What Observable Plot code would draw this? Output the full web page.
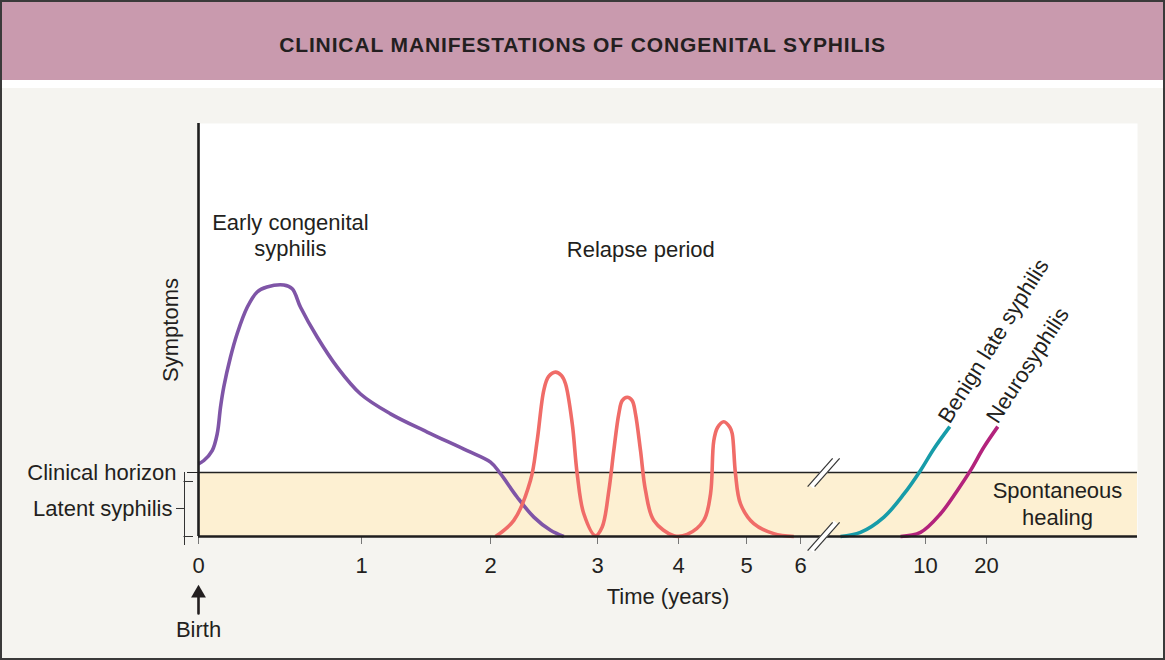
<!DOCTYPE html>
<html>
<head>
<meta charset="utf-8">
<script src="https://cdn.jsdelivr.net/npm/d3@7"></script>
<script src="https://cdn.jsdelivr.net/npm/@observablehq/plot@0.6"></script>
<style>
  html, body { margin: 0; padding: 0; background: #f5f4f0; }
  #wrap { position: relative; width: 1165px; height: 660px; overflow: hidden; background: #f5f4f0;
          font-family: "Liberation Sans", Arial, Helvetica, sans-serif; }
  #header { position: absolute; left: 0; top: 0; width: 1165px; height: 80px; background: #c99aae; }
  #strip { position: absolute; left: 0; top: 80px; width: 1165px; height: 8px; background: #ffffff; }
  #title { position: absolute; left: 0; top: 34px; width: 1165px; text-align: center; font-size: 21px; line-height: 21px;
           font-weight: bold; letter-spacing: 0.88px; color: #231f20; }
  #chart { position: absolute; left: 0; top: 88px; }
  #border { position: absolute; left: 0; top: 0; width: 1165px; height: 660px; box-sizing: border-box;
            border: 2px solid #3a3a3a; pointer-events: none; }
</style>
</head>
<body>
<div id="wrap">
  <div id="header"></div>
  <div id="strip"></div>
  <div id="title">CLINICAL MANIFESTATIONS OF CONGENITAL SYPHILIS</div>
  <div id="chart"></div>
  <div id="border"></div>
</div>
<script>
// ---- data (x in years on a broken schematic time axis, y = symptom level 0-100) ----
const xTicks = [0, 1, 2, 3, 4, 5, 6, 10, 20];
const xTickLabels = ["0", "1", "2", "3", "4", "5", "6", "10", "20"];
const horizon = 15.5;        // clinical horizon level
const breakAt = 6.74;        // axis break between 6 and 10 years

const earlyYears = [0, 0.033, 0.084, 0.115, 0.135, 0.155, 0.196, 0.237, 0.299, 0.36, 0.42, 0.523, 0.575, 0.626, 0.728, 0.851, 0.994, 1.225, 1.509, 1.819, 2.0, 2.093, 2.25, 2.405, 2.561, 2.685];
const earlyLevel = [17.6, 18.4, 20.8, 24.9, 31.3, 36.2, 43.4, 49.1, 55.5, 59.2, 60.4, 60.9, 60.0, 55.5, 48.3, 41.0, 34.5, 29.7, 25.3, 20.8, 18.0, 15.2, 9.5, 4.7, 1.5, 0];

const relapseYears = [2.047, 2.218, 2.374, 2.436, 2.498, 2.542, 2.607, 2.663, 2.701, 2.764, 2.81, 2.872, 2.981,
                      3.058, 3.14, 3.201, 3.263, 3.305, 3.367, 3.428, 3.469, 3.531, 3.593, 3.695, 3.942,
                      4.128, 4.371, 4.471, 4.519, 4.574, 4.666, 4.757, 4.79, 4.838, 4.912, 5.135, 5.506, 5.876];
const relapseLevel = [0, 3.9, 13.6, 23.2, 35.4, 38.7, 39.8, 39.0, 37.0, 27.3, 15.2, 5.5, 0.2,
                      2.3, 11.1, 20.8, 29.7, 32.9, 33.7, 32.9, 29.7, 20.8, 11.1, 3.9, 0.2,
                      0.5, 3.9, 10.3, 23.2, 26.4, 27.8, 26.4, 24.9, 15.2, 7.9, 3.1, 0.7, 0];

const benignYears = [7.28, 7.92, 8.67, 9.31, 9.84, 11.36, 13.98];
const benignLevel = [0, 1.0, 4.7, 10.3, 16.0, 21.2, 26.6];

const neuroYears = [9.2, 9.84, 12.46, 15.2, 17.38, 19.56, 21.85];
const neuroLevel = [0, 1.0, 5.5, 11.1, 16.0, 21.6, 26.6];

const seriesNames = ["Early congenital syphilis", "Relapse period", "Benign late syphilis", "Neurosyphilis"];
const seriesColors = ["#7f55a7", "#f06c68", "#179ca9", "#b3237c"];

// ---- build tables ----
const toRows = (name, xs, ys) => xs.map((x, i) => ({series: name, years: x, level: ys[i]}));
const rows = [
  ...toRows(seriesNames[0], earlyYears, earlyLevel),
  ...toRows(seriesNames[1], relapseYears, relapseLevel),
  ...toRows(seriesNames[2], benignYears, benignLevel),
  ...toRows(seriesNames[3], neuroYears, neuroLevel)
];
const lastOf = (xs, ys) => ({years: xs[xs.length - 1], level: ys[ys.length - 1]});
const benignEnd = lastOf(benignYears, benignLevel);
const neuroEnd = lastOf(neuroYears, neuroLevel);
const breaks = [{years: breakAt, level: horizon}, {years: breakAt, level: 0}];

const ink = "#231f20";
const fs = 22;
const slashHalfX = 0.4, slashHalfY = 3.4;

const chart = Plot.plot({
  width: 1165,
  height: 572,
  marginTop: 35,
  marginBottom: 124,
  marginLeft: 198,
  marginRight: 28,
  style: {background: "transparent", color: ink, fontFamily: "'Liberation Sans', Arial, Helvetica, sans-serif", fontSize: fs + "px"},
  x: {type: "linear", domain: xTicks, range: [198, 361, 490, 597, 678, 746, 800, 925, 986]},
  y: {domain: [0, 100]},
  color: {domain: seriesNames, range: seriesColors},
  marks: [
    Plot.frame({fill: "#ffffff", stroke: "none"}),
    Plot.rect([0], {y1: 0, y2: horizon, fill: "#fdf0d2"}),
    Plot.ruleY([horizon], {stroke: "#222", strokeWidth: 1.3}),
    // axes
    Plot.axisX(xTicks, {tickSize: 8, tickPadding: 13, stroke: "#777", fill: ink, fontSize: fs,
      tickFormat: (d) => xTickLabels[xTicks.indexOf(d)], label: null}),
    Plot.axisY([horizon], {tickSize: 11, tickPadding: 11, stroke: "#222", fill: ink, fontSize: fs,
      tickFormat: () => "Clinical horizon", label: null}),
    // curves
    Plot.line(rows, {x: "years", y: "level", z: "series", stroke: "series", strokeWidth: 3.6,
      curve: "catmull-rom", strokeLinecap: "butt", strokeLinejoin: "round"}),
    // axis lines
    Plot.ruleX([0], {stroke: "#1e1e1e", strokeWidth: 2.6}),
    Plot.ruleY([0], {stroke: "#1e1e1e", strokeWidth: 2.6}),
    // axis-break slashes
    Plot.link(breaks, {x1: d => d.years - slashHalfX, x2: d => d.years + slashHalfX,
      y1: d => d.level - slashHalfY, y2: d => d.level + slashHalfY, stroke: "#ffffff", strokeWidth: 6}),
    Plot.link(breaks, {x1: d => d.years - slashHalfX, x2: d => d.years + slashHalfX,
      y1: d => d.level - slashHalfY, y2: d => d.level + slashHalfY, stroke: "#333", strokeWidth: 1.2, dx: -3.5}),
    Plot.link(breaks, {x1: d => d.years - slashHalfX, x2: d => d.years + slashHalfX,
      y1: d => d.level - slashHalfY, y2: d => d.level + slashHalfY, stroke: "#333", strokeWidth: 1.2, dx: 3.5}),
    // latent syphilis bracket
    Plot.ruleX([0], {y1: 0, y2: horizon, insetTop: 9, dx: -14, stroke: "#333", strokeWidth: 1}),
    Plot.ruleY([0], {x1: 0, x2: 0, insetLeft: -14.5, insetRight: 5, stroke: "#333", strokeWidth: 1}),
    Plot.ruleY([horizon], {x1: 0, x2: 0, insetLeft: -14.5, insetRight: 5, dy: 9, stroke: "#333", strokeWidth: 1}),
    Plot.ruleY([horizon / 2], {x1: 0, x2: 0, insetLeft: -22, insetRight: 14, dy: 4, stroke: "#333", strokeWidth: 1}),
    Plot.text(["Latent syphilis"], {frameAnchor: "left", y: horizon / 2, dy: 4, dx: -26, textAnchor: "end", fill: ink, fontSize: fs}),
    // annotations
    Plot.text(["Early congenital\nsyphilis"], {x: 0.564, y: 67.8, textAnchor: "middle", lineAnchor: "bottom", lineHeight: 26 / fs, fill: ink, fontSize: fs}),
    Plot.text(["Relapse period"], {x: 3.535, y: 67.6, textAnchor: "middle", lineAnchor: "bottom", fill: ink, fontSize: fs}),
    Plot.text(["Spontaneous\nhealing"], {frameAnchor: "right", y: 2.9, dx: -80, textAnchor: "middle", lineAnchor: "bottom", lineHeight: 27 / fs, fill: ink, fontSize: fs}),
    Plot.text([benignEnd], {x: "years", y: "level", text: () => seriesNames[2], rotate: -58, textAnchor: "start", lineAnchor: "bottom", dx: 0, dy: -2, fill: ink, fontSize: fs}),
    Plot.text([neuroEnd], {x: "years", y: "level", text: () => seriesNames[3], rotate: -57, textAnchor: "start", lineAnchor: "bottom", dx: 0, dy: -2, fill: ink, fontSize: fs}),
    Plot.text(["Symptoms"], {frameAnchor: "left", rotate: -90, dx: -28, textAnchor: "middle", fill: ink, fontSize: fs}),
    Plot.text(["Time (years)"], {frameAnchor: "bottom", dy: 67, textAnchor: "middle", lineAnchor: "bottom", fill: ink, fontSize: fs}),
    // birth marker
    Plot.vector([0], {x: d => d, frameAnchor: "bottom", dy: 77, length: 18, rotate: 0, anchor: "start", r: 0, stroke: ink, strokeWidth: 2.6}),
    Plot.dot([0], {x: d => d, frameAnchor: "bottom", dy: 56.7, symbol: "triangle", r: 5.5, fill: ink, stroke: "none"}),
    Plot.text(["Birth"], {x: 0, frameAnchor: "bottom", dy: 100, textAnchor: "middle", lineAnchor: "bottom", fill: ink, fontSize: fs})
  ]
});
document.getElementById("chart").appendChild(chart);
</script>
</body>
</html>
